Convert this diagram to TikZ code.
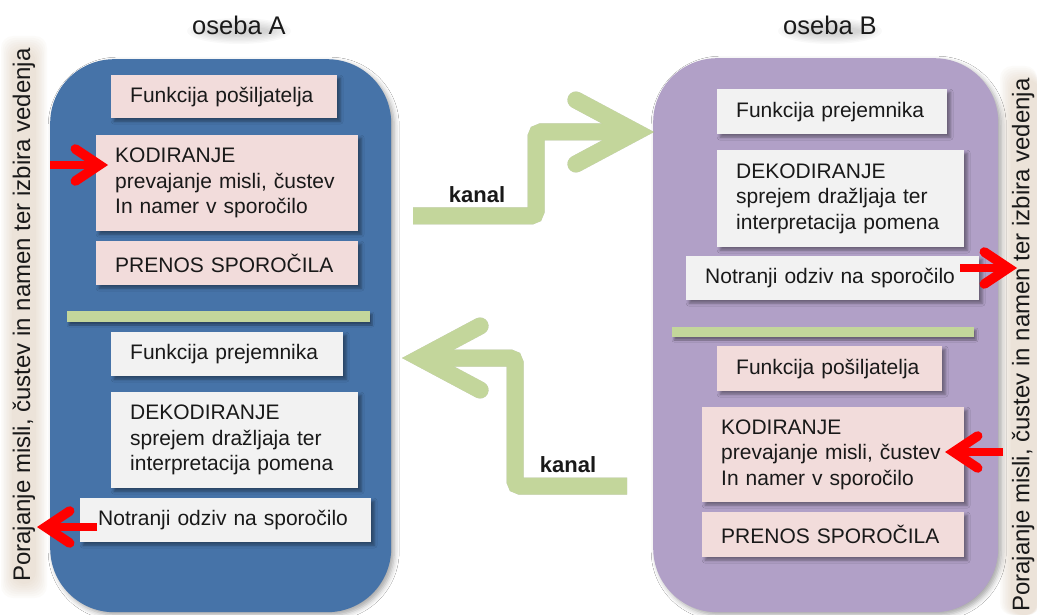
\documentclass[tikz,border=0pt]{standalone}
\usepackage{fontspec}
\setmainfont{Liberation Sans}
\usetikzlibrary{arrows.meta,shadows.blur}

\definecolor{personA}{RGB}{70,115,168}
\definecolor{personB}{RGB}{177,160,199}
\definecolor{pinkbox}{RGB}{242,220,219}
\definecolor{graybox}{RGB}{242,242,242}
\definecolor{kanalgreen}{RGB}{195,214,155}
\definecolor{glowtan}{RGB}{214,190,165}
\definecolor{ink}{RGB}{25,25,25}

\begin{document}
\begin{tikzpicture}[x=1pt,y=-1pt,
  person/.style={anchor=north west, rounded corners=64pt, inner sep=0pt,
    blur shadow={shadow xshift=3pt,shadow yshift=-3pt,shadow blur radius=5pt,shadow opacity=35}},
  card/.style={anchor=north west, inner xsep=19pt, inner ysep=0pt, align=left,
    text width=#1, text=ink, font=\fontsize{21}{25.5}\selectfont,
    blur shadow={shadow xshift=3pt,shadow yshift=-3pt,shadow blur radius=3pt,shadow opacity=40}},
  divider/.style={fill=kanalgreen,
    blur shadow={shadow xshift=2pt,shadow yshift=-3pt,shadow blur radius=2pt,shadow opacity=40}},
  title/.style={font=\fontsize{25.5}{30}\selectfont, text=ink},
  sidetext/.style={rotate=90, font=\fontsize{24}{28}\selectfont, text=ink},
  kanaltext/.style={font=\bfseries\fontsize{22}{26}\selectfont, text=ink},
  redarrow/.style={draw=red, line width=8pt,
    -{Straight Barb[length=24pt,width=32pt,line width=0pt 1.2,line cap=round,line join=miter]}},
  kanalarrow/.style={line width=17pt, rounded corners=5pt,
    -{Straight Barb[length=60pt,width=64pt,line width=0pt 1,line cap=round,line join=miter]}},
]
\useasboundingbox (0,0) rectangle (1037,615);
\fill[white] (0,0) rectangle (1037,615);

% soft tan glow behind the two side captions
\foreach \i in {0,...,7}{
  \fill[glowtan, opacity=0.06, rounded corners=12pt]
    (1+\i*1.6, 36+\i*2) rectangle (47-\i*1.6, 598-\i*2);
  \fill[glowtan, opacity=0.06, rounded corners=12pt]
    (1000+\i*1.6, 66+\i*2) rectangle (1037+\i*0.4, 615);
}

% the two persons
\node[person, fill=personA, minimum width=341pt, minimum height=553pt] (pA) at (50,59) {};
\node[person, fill=personB, minimum width=345pt, minimum height=554pt] (pB) at (653,58) {};

% soft shadows under the titles
\foreach \i in {0,...,6}{
  \fill[black, opacity=0.025] (239,31) ellipse ({52-\i*3.5} and {13-\i*1.4});
  \fill[black, opacity=0.025] (830,31) ellipse ({52-\i*3.5} and {13-\i*1.4});
}
\node[title] (tA) at (239,25) {oseba A};
\node[title] (tB) at (830,25) {oseba B};

% side captions
\node[sidetext] (sA) at (24,315) {Porajanje misli, čustev in namen ter izbira vedenja};
\node[sidetext] (sB) at (1023,345) {Porajanje misli, čustev in namen ter izbira vedenja};

% person A: sender part
\node[card=188pt, fill=pinkbox, minimum height=43pt] (a1) at (111,75) {\mbox{Funkcija pošiljatelja}};
\node[card=224pt, fill=pinkbox, minimum height=96pt] (a2) at (96,135)
  {KODIRANJE\\prevajanje misli, čustev\\In namer v sporočilo};
\node[card=224pt, fill=pinkbox, minimum height=44pt] (a3) at (96,241) {\mbox{PRENOS SPOROČILA}};
\path[divider] (67,311) rectangle (370,322);
% person A: receiver part
\node[card=194pt, fill=graybox, minimum height=44pt] (a4) at (111,332) {\mbox{Funkcija prejemnika}};
\node[card=209pt, fill=graybox, minimum height=96pt] (a5) at (111,392)
  {DEKODIRANJE\\sprejem dražljaja ter\\interpretacija pomena};
\node[card=255pt, fill=graybox, minimum height=44pt, inner xsep=18pt] (a6) at (80,498)
  {\mbox{Notranji odziv na sporočilo}};

% person B: receiver part
\node[card=192pt, fill=graybox, minimum height=45pt] (b1) at (717,89) {\mbox{Funkcija prejemnika}};
\node[card=209pt, fill=graybox, minimum height=97pt] (b2) at (717,150)
  {DEKODIRANJE\\sprejem dražljaja ter\\interpretacija pomena};
\node[card=255pt, fill=graybox, minimum height=44pt] (b3) at (686,256)
  {\mbox{Notranji odziv na sporočilo}};
\path[divider] (672,327) rectangle (974,337);
% person B: sender part
\node[card=187pt, fill=pinkbox, minimum height=45pt] (b4) at (717,346) {\mbox{Funkcija pošiljatelja}};
\node[card=224pt, fill=pinkbox, minimum height=95pt] (b5) at (702,407)
  {KODIRANJE\\prevajanje misli, čustev\\In namer v sporočilo};
\node[card=224pt, fill=pinkbox, minimum height=45pt] (b6) at (702,512) {\mbox{PRENOS SPOROČILA}};

% channel arrows between the persons, each with a soft offset shadow
\coordinate (k1s) at (413,216);
\coordinate (k1t) at (654,132);
\coordinate (k2s) at (627,486);
\coordinate (k2t) at (402,358);
\foreach \s/\o in {5/0.07,3/0.14}{
  \draw[kanalarrow, draw=black, opacity=\o, shift={(\s,\s+1)}] (k1s) -- ++(123,0) |- (k1t);
  \draw[kanalarrow, draw=black, opacity=\o, shift={(\s,\s+1)}] (k2s) -- ++(-112,0) |- (k2t);
}
\draw[kanalarrow, draw=kanalgreen] (k1s) -- ++(123,0) |- (k1t);
\draw[kanalarrow, draw=kanalgreen] (k2s) -- ++(-112,0) |- (k2t);
\node[kanaltext] (kan1) at (477,195) {kanal};
\node[kanaltext] (kan2) at (568,465) {kanal};

% red arrows between the captions and the boxes
\coordinate (r1s) at (50,165);
\coordinate (r1t) at (108,165);
\coordinate (r2s) at (97,527);
\coordinate (r2t) at (37,527);
\coordinate (r3s) at (960,268);
\coordinate (r3t) at (1017,268);
\coordinate (r4s) at (1003,452);
\coordinate (r4t) at (945,452);
\draw[redarrow] (r1s) -- (r1t);
\draw[redarrow] (r2s) -- (r2t);
\draw[redarrow] (r3s) -- (r3t);
\draw[redarrow] (r4s) -- (r4t);
\end{tikzpicture}
\end{document}
